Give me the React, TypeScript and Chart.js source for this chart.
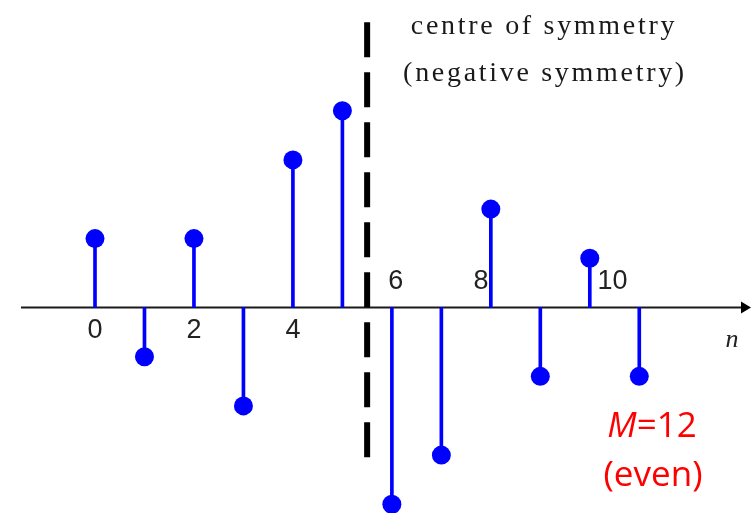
import React, { useEffect, useRef } from "react";
import { Chart, registerables } from "chart.js";

Chart.register(...registerables);

// ---- data ----
const SAMPLES: number[] = [0, 1, 2, 3, 4, 5, 6, 7, 8, 9, 10, 11];
const VALUES: number[] = [1.4, -1, 1.4, -2, 3, 4, -4, -3, 2, -1.4, 1, -1.4];
const TICK_VALUES: number[] = [0, 2, 4, 6, 8, 10];
const TICK_LABELS: string[] = ["0", "2", "4", "6", "8", "10"];
const CENTRE = 5.5;
const NOTE_LINES: string[] = ["centre of symmetry", "(negative symmetry)"];
const AXIS_LABEL = "n";

const BLUE = "#0000ff";
const INK = "#1a1a1a";

const overlay = {
  id: "stemOverlay",
  beforeDatasetsDraw(chart: any) {
    const { ctx } = chart;
    const xs = chart.scales.x;
    const ys = chart.scales.y;
    const y0 = ys.getPixelForValue(0);
    ctx.save();
    // horizontal axis
    ctx.strokeStyle = INK;
    ctx.lineWidth = 2;
    ctx.beginPath();
    ctx.moveTo(21, y0);
    ctx.lineTo(742, y0);
    ctx.stroke();
    ctx.fillStyle = "#000";
    ctx.beginPath();
    ctx.moveTo(751, y0);
    ctx.lineTo(741, y0 - 6);
    ctx.lineTo(741, y0 + 6);
    ctx.closePath();
    ctx.fill();
    // centre of symmetry dashed line
    const cx = xs.getPixelForValue(CENTRE);
    ctx.strokeStyle = "#000";
    ctx.lineWidth = 6;
    ctx.setLineDash([35, 15]);
    ctx.beginPath();
    ctx.moveTo(cx, ys.getPixelForValue(5.8));
    ctx.lineTo(cx, ys.getPixelForValue(-3.05));
    ctx.stroke();
    ctx.setLineDash([]);
    ctx.restore();
  },
  afterDraw(chart: any) {
    const { ctx } = chart;
    const xs = chart.scales.x;
    const ys = chart.scales.y;
    const y0 = ys.getPixelForValue(0);
    ctx.save();
    // tick labels
    ctx.fillStyle = "#222";
    ctx.font = "27px 'Liberation Sans', Arial, sans-serif";
    ctx.textAlign = "center";
    ctx.textBaseline = "middle";
    const shift: Record<string, number> = { "6": 0.08, "8": -0.2, "10": 0.46 };
    TICK_VALUES.forEach((v, i) => {
      const lbl = TICK_LABELS[i];
      const above = v >= 6;
      const x = xs.getPixelForValue(v + (shift[lbl] || 0));
      const y = above ? y0 - 26 : y0 + 23;
      ctx.fillText(lbl, x, y);
    });
    // axis variable
    ctx.font = "italic 26px 'Liberation Serif', 'Times New Roman', serif";
    ctx.fillText(AXIS_LABEL, 732, y0 + 33);
    // note
    ctx.fillStyle = "#1a1a1a";
    ctx.font = "28px 'Liberation Serif', 'Times New Roman', serif";
    ctx.textBaseline = "alphabetic";
    try {
      (ctx as any).letterSpacing = "2.7px";
    } catch (e) {}
    ctx.fillText(NOTE_LINES[0], 544, 34);
    ctx.fillText(NOTE_LINES[1], 545, 81);
    try {
      (ctx as any).letterSpacing = "0px";
    } catch (e) {}
    // M=12 (even)
    ctx.fillStyle = "#ff0000";
    ctx.font = "italic 35px 'Open Sans', 'Liberation Sans', sans-serif";
    ctx.textAlign = "left";
    const mW = ctx.measureText("M").width;
    ctx.font = "35px 'Open Sans', 'Liberation Sans', sans-serif";
    const restW = ctx.measureText("=12").width;
    const start = 652 - (mW + restW) / 2;
    ctx.font = "italic 35px 'Open Sans', 'Liberation Sans', sans-serif";
    ctx.fillText("M", start, 437);
    ctx.font = "35px 'Open Sans', 'Liberation Sans', sans-serif";
    ctx.fillText("=12", start + mW, 437);
    ctx.textAlign = "center";
    ctx.fillText("(even)", 653, 486);
    ctx.restore();
  },
};

export default function App() {
  const ref = useRef<HTMLCanvasElement | null>(null);
  useEffect(() => {
    if (!ref.current) return;
    const pts = SAMPLES.map((n, i) => ({ x: n, y: VALUES[i] }));
    const chart = new Chart(ref.current, {
      type: "bar",
      data: {
        datasets: [
          {
            type: "scatter",
            data: pts,
            pointRadius: 9.5,
            pointBackgroundColor: BLUE,
            pointBorderWidth: 0,
            borderColor: BLUE,
            showLine: false,
            order: 0,
          } as any,
          {
            type: "bar",
            data: pts,
            backgroundColor: BLUE,
            borderWidth: 0,
            barThickness: 3,
            order: 1,
          } as any,
        ],
      },
      options: {
        animation: false,
        responsive: false,
        events: [],
        layout: { padding: 0, autoPadding: false },
        plugins: { legend: { display: false }, tooltip: { enabled: false } },
        scales: {
          x: { type: "linear", display: false, offset: false, min: -1.92, max: 13.258 },
          y: { type: "linear", display: false, min: -4.177, max: 6.25 },
        },
      },
      plugins: [overlay],
    });
    return () => chart.destroy();
  }, []);
  return (
    <div style={{ position: "absolute", left: 0, top: 0, width: 751, height: 513, background: "#fff" }}>
      <canvas ref={ref} width={751} height={513} style={{ display: "block" }} />
    </div>
  );
}
